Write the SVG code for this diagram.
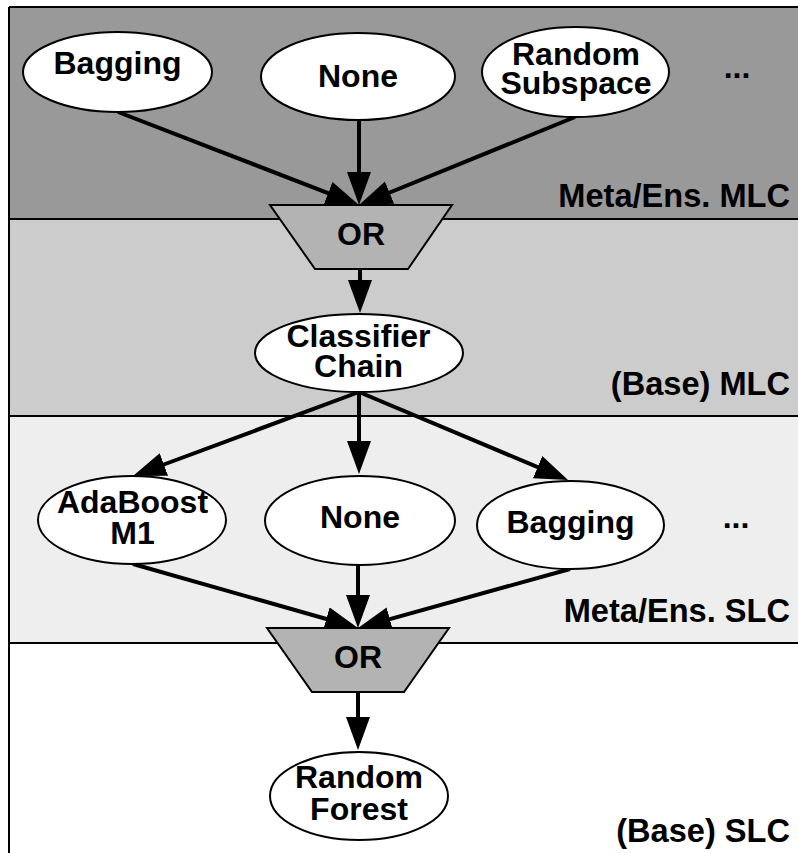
<svg xmlns="http://www.w3.org/2000/svg" width="798" height="853" viewBox="0 0 798 853">
<style>
.t{font-family:"Liberation Sans",Arial,sans-serif;font-weight:bold;font-size:32px;fill:#000}
.lab{font-size:32.6px}
.m{text-anchor:middle}
.r{text-anchor:end}
.node{fill:#fff;stroke:#000;stroke-width:2}
.or{fill:#b3b3b3;stroke:#000;stroke-width:2}
.edge{stroke:#000;stroke-width:4;fill:none;marker-end:url(#ah)}
.div{stroke:#000;stroke-width:2}
</style>
<defs>
<marker id="ah" markerUnits="userSpaceOnUse" markerWidth="34" markerHeight="26" refX="13" refY="12" orient="auto" viewBox="0 0 34 26">
<path d="M0,0 L33,12 L0,24 z" fill="#000"/>
</marker>
</defs>
<g id="bands">
<rect x="9" y="7" width="789" height="212" fill="#999999"/>
<rect x="9" y="219" width="789" height="197" fill="#cccccc"/>
<rect x="9" y="416" width="789" height="227" fill="#eeeeee"/>
<rect x="9" y="643" width="789" height="210" fill="#ffffff"/>
<line class="div" x1="9" y1="7" x2="798" y2="7"/>
<line class="div" x1="9" y1="7" x2="9" y2="853"/>
<line class="div" x1="9" y1="219" x2="798" y2="219"/>
<line class="div" x1="9" y1="416" x2="798" y2="416"/>
<line class="div" x1="9" y1="643" x2="798" y2="643"/>
<text class="t lab r" x="790" y="207">Meta/Ens. MLC</text>
<text class="t lab r" x="790" y="395">(Base) MLC</text>
<text class="t lab r" x="790" y="622">Meta/Ens. SLC</text>
<text class="t lab r" x="790" y="842">(Base) SLC</text>
</g>
<g id="connectors">
<line class="edge" x1="118" y1="112" x2="340.3" y2="197.8"/>
<line class="edge" x1="359" y1="120" x2="359" y2="185"/>
<line class="edge" x1="575" y1="117" x2="377.5" y2="197.5"/>
<line class="edge" x1="360" y1="269" x2="360" y2="293"/>
<line class="edge" x1="359" y1="392" x2="151.7" y2="469"/>
<line class="edge" x1="359" y1="392" x2="359" y2="454"/>
<line class="edge" x1="359" y1="392" x2="549.6" y2="472.2"/>
<line class="edge" x1="133" y1="564" x2="338.8" y2="622.5"/>
<line class="edge" x1="358" y1="565" x2="358" y2="608"/>
<line class="edge" x1="570" y1="569" x2="377.3" y2="622.6"/>
<line class="edge" x1="358" y1="692" x2="358" y2="730"/>
</g>
<g id="bagging1">
<ellipse class="node" cx="117.5" cy="72" rx="94.5" ry="40"/>
<text class="t m" x="117.5" y="74">Bagging</text>
</g>
<g id="none1">
<ellipse class="node" cx="358" cy="76.5" rx="97" ry="43.5"/>
<text class="t m" x="358" y="87">None</text>
</g>
<g id="randomsubspace">
<ellipse class="node" cx="575.5" cy="72" rx="93.5" ry="45"/>
<text class="t m" x="576" y="65">Random</text>
<text class="t m" x="576" y="94">Subspace</text>
</g>
<g id="dots1"><text class="t m" x="737" y="78">...</text></g>
<g id="or1">
<polygon class="or" points="270,205 452,205 408,269 315,269"/>
<text class="t m" x="361" y="245">OR</text>
</g>
<g id="classifierchain">
<ellipse class="node" cx="359" cy="353" rx="104" ry="39"/>
<text class="t m" x="358.5" y="347">Classifier</text>
<text class="t m" x="358.5" y="377">Chain</text>
</g>
<g id="adaboost">
<ellipse class="node" cx="132" cy="520" rx="94" ry="44"/>
<text class="t m" x="132.5" y="513">AdaBoost</text>
<text class="t m" x="132.5" y="544">M1</text>
</g>
<g id="none2">
<ellipse class="node" cx="360" cy="520.5" rx="95" ry="44.5"/>
<text class="t m" x="360" y="528">None</text>
</g>
<g id="bagging2">
<ellipse class="node" cx="570.5" cy="525" rx="93.5" ry="44"/>
<text class="t m" x="570.5" y="533">Bagging</text>
</g>
<g id="dots2"><text class="t m" x="736" y="528">...</text></g>
<g id="or2">
<polygon class="or" points="267,628 449,628 404,692 312,692"/>
<text class="t m" x="358" y="668">OR</text>
</g>
<g id="randomforest">
<ellipse class="node" cx="359" cy="796" rx="89" ry="44"/>
<text class="t m" x="359" y="788">Random</text>
<text class="t m" x="359" y="820">Forest</text>
</g>
</svg>
